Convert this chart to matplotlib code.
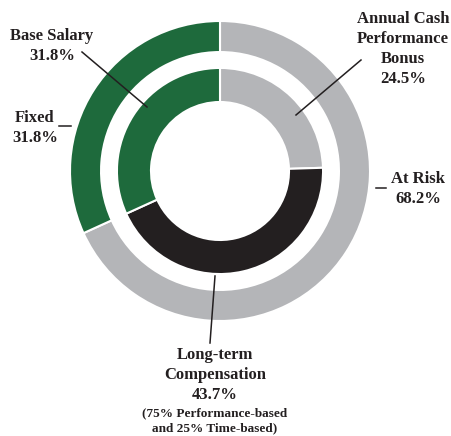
import matplotlib.pyplot as plt

# -----------------------
# Data
# -----------------------

outer_labels = ["At Risk", "Fixed"]
outer_values = [68.2, 31.8]

inner_labels = ["Annual Cash\nPerformance\nBonus", "Long-term\nCompensation", "Base Salary"]
inner_values = [24.5, 43.7, 31.8]

GREEN = "#1e6a3c"
GRAY = "#b4b5b8"
BLACK = "#231f20"
TEXT = "#231f20"

plt.rcParams["font.family"] = ["Liberation Serif", "DejaVu Serif"]

# -----------------------
# Figure (1 data unit = 150 px, centre at px (220, 171))
# -----------------------

W, H = 452, 436
CX, CY, SCALE = 220, 171, 150

fig = plt.figure(figsize=(W / 100, H / 100), dpi=100)
ax = fig.add_axes([0, 0, 1, 1])
ax.axis("off")


def px(x, y):
    return ((x - CX) / SCALE, (CY - y) / SCALE)


ax.pie(
    outer_values,
    colors=[GRAY, GREEN],
    startangle=90,
    counterclock=False,
    radius=1.0,
    wedgeprops=dict(width=0.207, edgecolor="white", linewidth=1.5),
)

ax.pie(
    inner_values,
    colors=[GRAY, BLACK, GREEN],
    startangle=90,
    counterclock=False,
    radius=0.687,
    wedgeprops=dict(width=0.227, edgecolor="white", linewidth=1.5),
)

ax.set_xlim(-CX / SCALE, (W - CX) / SCALE)
ax.set_ylim(-(H - CY) / SCALE, CY / SCALE)
ax.set_aspect("equal")

fs = 12
bold = dict(fontsize=fs, fontweight="bold", color=TEXT, ha="center", va="center",
            linespacing=1.32)
line = dict(color=TEXT, linewidth=1.1)

# Base Salary
ax.text(*px(52, 46), f"{inner_labels[2]}\n{inner_values[2]}%", **bold)
ax.plot(*zip(px(82, 52), px(147, 107)), **line)

# Fixed
ax.text(*px(35, 128), f"{outer_labels[1]}\n{outer_values[1]}%", **bold)
ax.plot(*zip(px(59, 126), px(71, 126)), **line)

# Annual Cash Performance Bonus
ax.text(*px(403, 49), f"{inner_labels[0]}\n{inner_values[0]}%", **bold)
ax.plot(*zip(px(361, 60), px(296, 115)), **line)

# At Risk
ax.text(*px(418, 189), f"{outer_labels[0]}\n{outer_values[0]}%", **bold)
ax.plot(*zip(px(376, 188), px(386, 188)), **line)

# Long-term Compensation
ax.text(*px(215, 375), f"{inner_labels[1]}\n{inner_values[1]}%", **bold)
ax.text(*px(215, 421), "(75% Performance-based\nand 25% Time-based)",
        fontsize=9.5, fontweight="bold", color=TEXT, ha="center", va="center",
        linespacing=1.3)
ax.plot(*zip(px(215, 276), px(210, 343)), **line)

fig.savefig("out.png", dpi=100)
